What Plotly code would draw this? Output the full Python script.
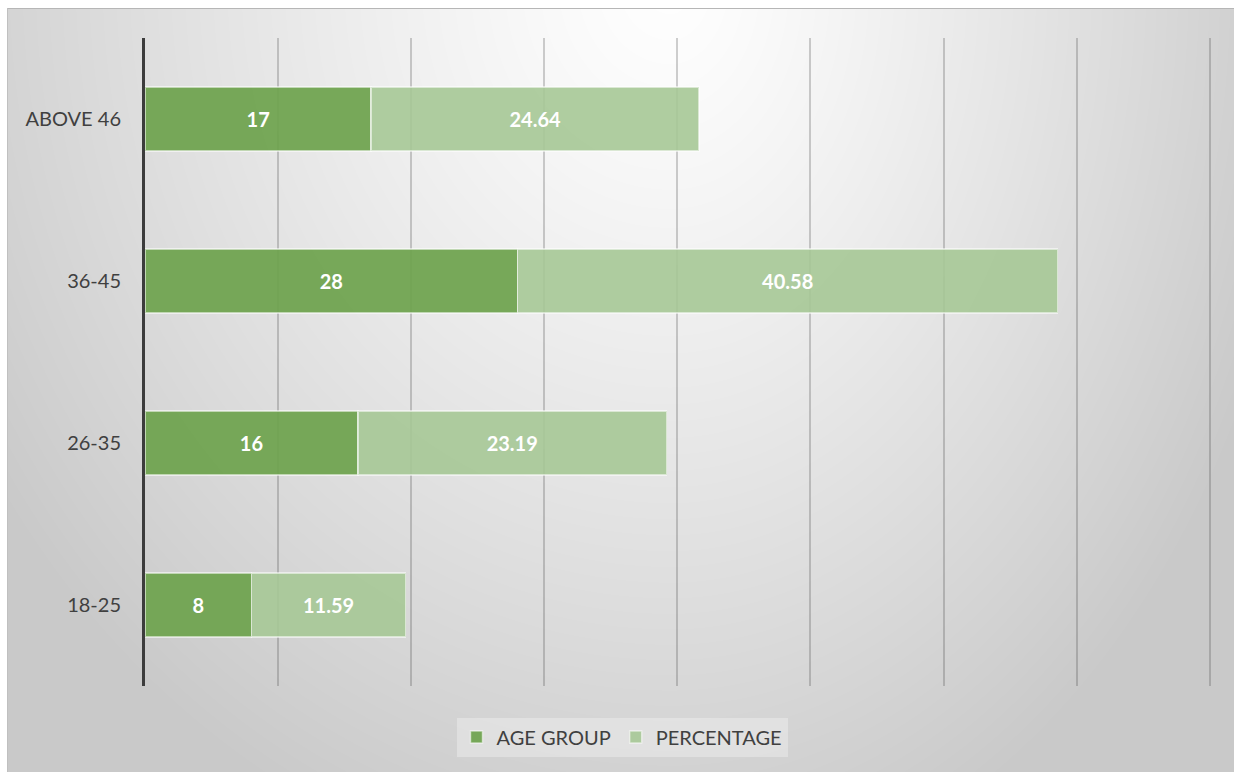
import base64
import struct
import zlib

import numpy as np
import plotly.graph_objects as go

# ---- data -------------------------------------------------------------
categories = ["18-25", "26-35", "36-45", "ABOVE 46"]
age_group = [8, 16, 28, 17]
percentage = [11.59, 23.19, 40.58, 24.64]
x_ticks = [0, 10, 20, 30, 40, 50, 60, 70, 80]

# ---- canvas geometry --------------------------------------------------
W, H = 1234, 772
M_L, M_R, M_T, M_B = 145, 23, 38, 86
X_MAX = 80.1  # a hair past the last tick so its gridline is still drawn
FRAME_X0, FRAME_Y0 = 7, 8  # chart frame starts a few px in from the page corner


def png_data_uri(gray):
    """Encode a 2-D uint8 array as a grayscale PNG data URI."""
    h, w = gray.shape
    raw = b"".join(b"\x00" + gray[r].tobytes() for r in range(h))

    def chunk(tag, data):
        c = struct.pack(">I", len(data)) + tag + data
        return c + struct.pack(">I", zlib.crc32(tag + data) & 0xFFFFFFFF)

    png = b"\x89PNG\r\n\x1a\n"
    png += chunk(b"IHDR", struct.pack(">IIBBBBB", w, h, 8, 0, 0, 0, 0))
    png += chunk(b"IDAT", zlib.compress(raw, 9))
    png += chunk(b"IEND", b"")
    return "data:image/png;base64," + base64.b64encode(png).decode()


# soft radial backdrop: bright near the top centre, grey towards the edges
fw, fh = W - FRAME_X0, H - FRAME_Y0
yy, xx = np.mgrid[0:fh, 0:fw].astype(float)
xx += FRAME_X0
yy += FRAME_Y0
cx, cy = 670.0, -20.0
sx = np.where(xx > cx, 560.0, 700.0)
r = np.sqrt(((xx - cx) / sx) ** 2 + ((yy - cy) / 800.0) ** 2)
shade = 255.0 - 45.0 * np.minimum(r, 1.15) ** 1.2
shade = np.clip(shade, 198, 255)
shade[0, :] = 182  # frame border, top
shade[:, 0] = 192  # frame border, left
backdrop = png_data_uri(shade.astype(np.uint8))

pw, ph = W - M_L - M_R, H - M_T - M_B

label_font = dict(family="Lato", size=20, color="white", weight="bold")

fig = go.Figure()

fig.add_trace(go.Bar(
    name="AGE GROUP",
    y=categories,
    x=age_group,
    orientation="h",
    text=[str(v) for v in age_group],
    textposition="inside",
    insidetextanchor="middle",
    textfont=label_font,
    marker=dict(color="rgba(110,162,78,0.93)",
                line=dict(color="rgba(255,255,255,0.55)", width=1.5)),
))
fig.add_trace(go.Bar(
    name="PERCENTAGE",
    y=categories,
    x=percentage,
    orientation="h",
    text=[f"{v:.2f}" for v in percentage],
    textposition="inside",
    insidetextanchor="middle",
    textfont=label_font,
    marker=dict(color="rgba(166,200,150,0.9)",
                line=dict(color="rgba(255,255,255,0.55)", width=1.5)),
))

fig.update_layout(
    width=W,
    height=H,
    margin=dict(l=M_L, r=M_R, t=M_T, b=M_B, pad=0),
    barmode="stack",
    bargap=0.605,
    paper_bgcolor="white",
    plot_bgcolor="rgba(0,0,0,0)",
    font=dict(family="Lato", color="#404040"),
    images=[dict(
        source=backdrop,
        xref="paper", yref="paper",
        x=(FRAME_X0 - M_L) / pw,
        y=1 + (M_T - FRAME_Y0) / ph,
        sizex=fw / pw,
        sizey=fh / ph,
        xanchor="left", yanchor="top",
        sizing="stretch",
        layer="below",
    )],
    xaxis=dict(
        range=[0, X_MAX],
        tickvals=x_ticks,
        showticklabels=False,
        showgrid=True,
        gridcolor="rgba(70,70,70,0.26)",
        gridwidth=1.5,
        zeroline=False,
        showline=False,
        fixedrange=True,
    ),
    yaxis=dict(
        categoryorder="array",
        categoryarray=categories,
        showline=True,
        linecolor="#3c3c3c",
        linewidth=3,
        ticks="",
        ticklabelstandoff=17,
        tickfont=dict(family="Lato", size=20, color="#404040"),
        showgrid=False,
        fixedrange=True,
    ),
    legend=dict(
        orientation="h",
        x=(622 - M_L) / pw,
        xanchor="center",
        y=-(737 - (M_T + ph)) / ph,
        yanchor="middle",
        bgcolor="rgba(255,255,255,0.3)",
        font=dict(family="Lato", size=20, color="#404040"),
        traceorder="normal",
        itemwidth=30,
    ),
    showlegend=True,
)

fig.write_html("out.html")
